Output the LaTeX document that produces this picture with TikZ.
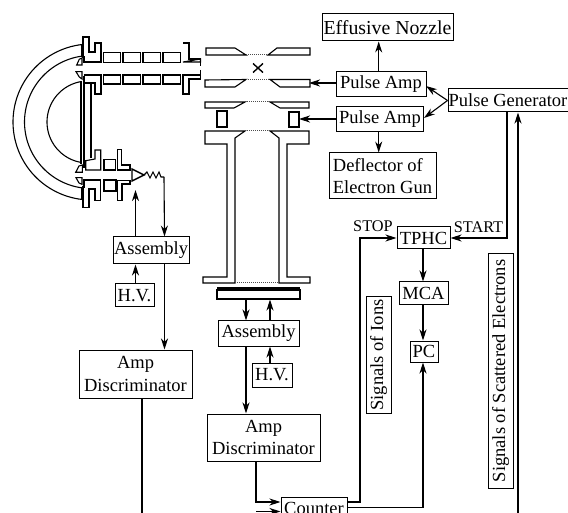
\documentclass[tikz,border=0pt]{standalone}
\usepackage{fontspec}
\setmainfont{Liberation Serif}
\usetikzlibrary{arrows.meta}
\tikzset{
  part/.style={draw=black,line width=1.1pt,line join=miter},
  wire/.style={draw=black,line width=1.1pt},
  arr/.style={wire,-{Stealth[length=11pt,width=7pt,inset=3.5pt]}},
  boxn/.style={draw=black,line width=1pt,inner sep=0pt,align=center,font=\fontsize{18.5}{22.5}\selectfont},
  small/.style={inner sep=0pt,font=\fontsize{16.3}{18}\selectfont},
  gap/.style={draw=black!70,line width=1pt,densely dotted},
}
\begin{document}
\begin{tikzpicture}[x=1pt,y=-1pt]
\useasboundingbox (0,0) rectangle (568,513);
\clip (0,0) rectangle (568,513);
\fill[white] (0,0) rectangle (568,513);
% nodes
\node[boxn,font=\fontsize{19.8}{22.5}\selectfont,minimum width=131,minimum height=27] (eff) at (387.5,27.5) {Effusive Nozzle};
\node[boxn,minimum width=90,minimum height=25] (pa1) at (381,84.5) {Pulse Amp};
\node[boxn,minimum width=87,minimum height=25] (pa2) at (380,119.5) {Pulse Amp};
\node[boxn,align=left,minimum width=107,minimum height=46] (defl) at (382.5,176) {Deflector of\\Electron Gun};
\node[boxn,minimum width=120,minimum height=23] (pg) at (508,100.5) {Pulse Generator};
\node[boxn,minimum width=53,minimum height=22] (tphc) at (423.5,238) {TPHC};
\node[boxn,minimum width=49,minimum height=23] (mca) at (423.5,293.5) {MCA};
\node[boxn,minimum width=28,minimum height=21] (pc) at (424,351.5) {PC};
\node[boxn,rotate=90,minimum width=116,minimum height=25] (ions) at (378.5,355) {Signals of Ions};
\node[boxn,rotate=90,minimum width=234,minimum height=25] (scat) at (500.5,371) {Signals of Scattered Electrons};
\node[boxn,minimum width=81,minimum height=25] (asmC) at (258.5,333.5) {Assembly};
\node[boxn,minimum width=40,minimum height=24] (hvC) at (272,375) {H.V.};
\node[boxn,minimum width=113,minimum height=47] (ampC) at (263.5,437.5) {Amp\\Discriminator};
\node[boxn,minimum width=66,minimum height=23] (counter) at (314,508.5) {Counter};
\node[boxn,minimum width=76,minimum height=27] (asmL) at (151,250.5) {Assembly};
\node[boxn,minimum width=39,minimum height=23] (hvL) at (134.5,295.5) {H.V.};
\node[boxn,minimum width=113,minimum height=48] (ampL) at (135.5,374) {Amp\\Discriminator};
\node[small] (stop) at (373,226) {STOP};
\node[small] (start) at (478.5,227.5) {START};
% apparatus: hemispherical analyser
\draw[part] (82,44) -- (82,57);
\draw[part] (82,187) -- (82,200);
\draw[part] plot[domain=96.6:263.4,samples=60] ({91+78*cos(\x)},{122+78*sin(\x)});
\draw[part] plot[domain=98:262,samples=60] ({91+66.5*cos(\x)},{122+66.5*sin(\x)});
\draw[part] plot[domain=100:260,samples=50] ({88+41*cos(\x)},{122+41*sin(\x)});
\draw[part] (81,81) -- (81,164);
\draw[part] (84,76) -- (84,168);
\draw[part] (91,83) -- (91,158);
% upper lens column
\draw[part] (83,37) -- (89,37) -- (89,52) -- (95,52) -- (95,43) -- (101,43) -- (101,62) -- (84,62) -- (84,57) -- (83,57) -- cycle;
\foreach \a/\b in {103.5/120.5,123/140.5,143/160.5,163/180.5}{
  \draw[part] (\a,52.5) rectangle (\b,62.5);
  \draw[part] (\a,75) rectangle (\b,84);
}
\draw[part] (183,43) -- (189,43) -- (189,59) -- (200.5,59) -- (200.5,66);
\draw[part] (200.5,59) -- (200.5,62) -- (183,62) -- cycle;
\draw[part] (200.5,70) -- (200.5,79) -- (189,79) -- (189,94) -- (183,94) -- (183,75) -- (200.5,75);
\draw[part] (84,75) -- (101,75) -- (101,94) -- (95,94) -- (95,83) -- (84,83);
\draw[part] (76.7,65) -- (82,65) -- (82,58) -- (79.3,59.3) -- cycle;
\draw[part] (76,71.7) -- (82,71.7) -- (82,79) -- (79.3,77) -- cycle;
% lower lens column
\draw[part] (95,150) -- (100.7,150) -- (100.7,170) -- (85.7,170) -- (85.7,160.7) -- (95,159) -- cycle;
\draw[part] (104,159.3) rectangle (115.7,170);
\draw[part] (117.7,149.3) -- (121.7,149.3) -- (121.7,165) -- (130,165) -- (130,170) -- (117.7,170) -- cycle;
\draw[part] (84,180) -- (100.7,180) -- (100.7,200.5) -- (95,200.5) -- (95,189) -- (89,189) -- (89,207.5) -- (83,207.5) -- (83,187) -- (84,187) -- cycle;
\draw[part] (104,180) rectangle (116,191);
\draw[part] (117.7,180.5) -- (130,180.5) -- (130,184) -- (122,184) -- (122,200.5) -- (117.7,200.5) -- cycle;
\draw[part] (75.7,172.3) -- (82.3,172.3) -- (82.3,165) -- (79,166) -- cycle;
\draw[part] (76,177.7) -- (82,177.7) -- (82,184.3) -- (79,183) -- cycle;
% detector symbol
\draw[part,line width=1.4pt] (132,169) -- (132,181) -- (144,175) -- cycle;
\coordinate (zzend) at (164,177);
\draw[wire,line join=miter] (144,175) -- (147,172) -- (150,178) -- (153,172) -- (156,178) -- (159,172) -- (161,177) -- (zzend);
% interaction region electrodes
\draw[part] (206,48) -- (235,48) -- (246,55) -- (206,55) -- cycle;
\draw[part] (310,48) -- (277,48) -- (268,55) -- (310,55) -- cycle;
\draw[gap] (246,55) -- (268,55);
\draw[part,line width=1.4pt] (253,63.5) -- (263,72.5) (263,63.5) -- (253,72.5);
\draw[part] (205,80) -- (246,79.5) -- (235,87) -- (205,87) -- cycle;
\draw[part] (310,79.5) -- (270,79.5) -- (280,87) -- (310,87) -- cycle;
\draw[gap] (246,79.5) -- (270,79.5);
\draw[part] (205,102) -- (245,102) -- (234,108) -- (205,108) -- cycle;
\draw[part] (309,102) -- (270,102) -- (280,108) -- (309,108) -- cycle;
\draw[gap] (245,102) -- (270,102);
\draw[part] (217,111) rectangle (227,127);
\draw[part] (289,112) rectangle (299,127);
\draw[part] (205,131) -- (245,131) -- (235,138) -- (235,283) -- (203,283) -- (203,277) -- (227,277) -- (227,144) -- (205,144) -- cycle;
\draw[part] (309,131) -- (270,131) -- (279,138) -- (279,283) -- (310,283) -- (310,277) -- (287,277) -- (287,144) -- (309,144) -- cycle;
\draw[gap] (245,131) -- (270,131);
\draw[gap] (235,283) -- (279,283);
\draw[part] (217,290) rectangle (300,299);
\fill[black] (216.5,287) rectangle (300,291);
% connector rail positions
\coordinate (railA) at (378.7,0);
\coordinate (railB) at (135.5,0);
\coordinate (railC) at (164.5,0);
\coordinate (railD) at (246,0);
\coordinate (railE) at (270,0);
\coordinate (railF) at (142,513);
\coordinate (railG) at (256,0);
\coordinate (railH) at (360,0);
\coordinate (railI) at (423,0);
\coordinate (railJ) at (507,0);
\coordinate (railK) at (518,513);
\coordinate (lowY) at (0,502);
\coordinate (lowZ) at (0,507.5);
\coordinate (lowW) at (0,511.5);
\coordinate (detB) at (0,190);
\coordinate (mcpB) at (0,298.5);
\coordinate (mcpC) at (0,299.5);
\coordinate (py1) at (0,83);
\coordinate (py2) at (0,119);
\coordinate (tip1) at (309,83);
\coordinate (tip2) at (299,119);
\coordinate (tipA) at (426,86);
\coordinate (tipB) at (424,118);
% connectors
\draw[arr] (railA |- pa1.north) -- (railA |- eff.south);
\draw[arr] (pa1.west |- py1) -- (tip1);
\draw[arr] (pa2.west |- py2) -- (tip2);
\draw[arr] (railA |- pa2.south) -- (railA |- defl.north);
\draw[arr] (pg.west) -- (tipA);
\draw[arr] (pg.west) -- (tipB);
\draw[arr] (railJ |- pg.south) -- (railJ |- tphc.east) -- (tphc.east);
\draw[arr] (railK) -- (railK |- pg.south);
\draw[arr] (railI |- tphc.south) -- (railI |- mca.north);
\draw[arr] (railI |- mca.south) -- (railI |- pc.north);
\draw[arr] (counter.east |- lowZ) -- (railI |- lowZ) -- (railI |- pc.south);
\draw[arr] (counter.east |- lowY) -- (railH |- lowY) -- (railH |- tphc.west) -- (tphc.west);
\draw[arr] (railG |- ampC.south) -- (railG |- lowY) -- (counter.west |- lowY);
\draw[arr] (railG |- lowW) -- (counter.west |- lowW);
\draw[wire] (railF |- ampL.south) -- (railF);
\draw[arr] (railC |- asmL.south) -- (railC |- ampL.north);
\draw[arr] (zzend) -- (railC |- asmL.north);
\draw[arr] (railB |- hvL.north) -- (railB |- asmL.south);
\draw[arr] (railB |- asmL.north) -- (railB |- detB);
\draw[arr] (railD |- mcpB) -- (railD |- asmC.north);
\draw[arr] (railE |- asmC.north) -- (railE |- mcpC);
\draw[arr] (railE |- hvC.north) -- (railE |- asmC.south);
\draw[arr] (railD |- asmC.south) -- (railD |- ampC.north);
\end{tikzpicture}
\end{document}
